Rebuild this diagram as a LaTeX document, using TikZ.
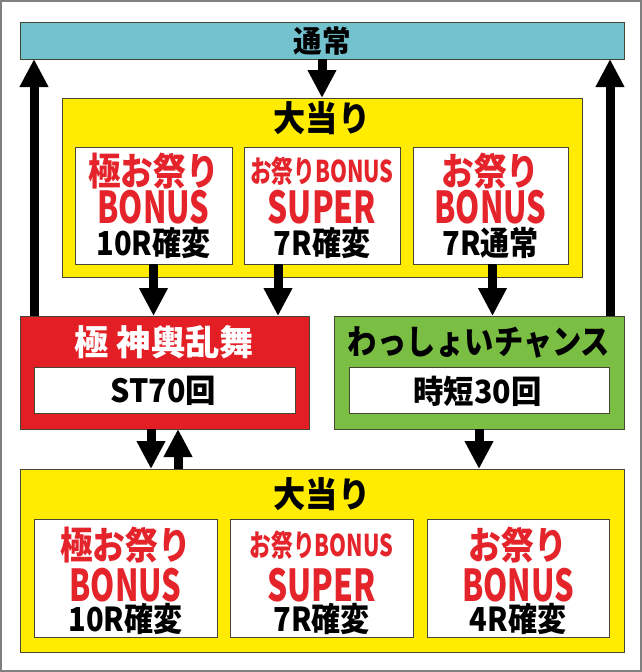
\documentclass[tikz,border=0pt]{standalone}
\usepackage{fontspec}
\usetikzlibrary{arrows.meta}
\newcommand\jf[2]{\fontspec{Noto Sans CJK JP}[UprightFont=* Black,FakeStretch=#1]\fontsize{#2}{#2}\selectfont}
\definecolor{barteal}{RGB}{115,195,207}
\definecolor{boxyellow}{RGB}{255,236,0}
\definecolor{boxred}{RGB}{227,30,36}
\definecolor{boxgreen}{RGB}{122,190,67}
\definecolor{txtred}{RGB}{228,36,42}
\definecolor{edge}{RGB}{70,70,50}
\tikzset{
  panel/.style={draw=edge, line width=0.8pt, anchor=north west, inner sep=0pt, outer sep=0pt},
  lbl/.style={inner sep=0pt, outer sep=0pt, anchor=center},
  arr/.style={line width=9pt, -{Triangle[width=27pt,length=28pt]}},
  redl/.style={lbl, text=txtred},
}
\begin{document}
\begin{tikzpicture}[x=1pt,y=-1pt]
\useasboundingbox (0,0) rectangle (642,672);
\draw[draw=gray, line width=2pt] (1,1) rectangle (641,671);
% boxes
\node[panel, fill=barteal, minimum width=604pt, minimum height=37pt] (bar) at (20,22) {};
\node[panel, fill=boxyellow, minimum width=520pt, minimum height=179pt] (topY) at (62,98) {};
\node[panel, fill=white, minimum width=157pt, minimum height=117pt] (t1) at (75,147) {};
\node[panel, fill=white, minimum width=156pt, minimum height=117pt] (t2) at (244,147) {};
\node[panel, fill=white, minimum width=155pt, minimum height=117pt] (t3) at (413,147) {};
\node[panel, fill=boxred, minimum width=289pt, minimum height=113pt] (red) at (20,316) {};
\node[panel, fill=white, minimum width=261pt, minimum height=46pt] (redIn) at (34,367) {};
\node[panel, fill=boxgreen, minimum width=290pt, minimum height=113pt] (green) at (334,316) {};
\node[panel, fill=white, minimum width=260pt, minimum height=46pt] (greenIn) at (349,367) {};
\node[panel, fill=boxyellow, minimum width=604pt, minimum height=183pt] (botY) at (20,469) {};
\node[panel, fill=white, minimum width=183pt, minimum height=118pt] (b1) at (34,519) {};
\node[panel, fill=white, minimum width=183pt, minimum height=118pt] (b2) at (230,519) {};
\node[panel, fill=white, minimum width=182pt, minimum height=118pt] (b3) at (427,519) {};
% texts
\node[lbl] (barT) at (322,41) {\jf{0.95}{30pt}通常};
\node[lbl] (topT) at (322,118) {\jf{0.92}{35pt}大当り};
\node[redl] (t1a) at (153.5,171) {\jf{0.86}{38pt}極お祭り};
\node[redl] (t1b) at (153.5,207) {\jf{0.7}{44pt}BONUS};
\node[lbl] (t1c) at (153.5,243) {\jf{0.88}{33pt}10R確変};
\node[redl] (t2a) at (322,171) {\jf{0.72}{30pt}お祭りBONUS};
\node[redl] (t2b) at (322,207) {\jf{0.72}{44pt}SUPER};
\node[lbl] (t2c) at (322,243) {\jf{0.88}{33pt}7R確変};
\node[redl] (t3a) at (490.5,171) {\jf{0.86}{38pt}お祭り};
\node[redl] (t3b) at (490.5,207) {\jf{0.7}{44pt}BONUS};
\node[lbl] (t3c) at (490.5,243) {\jf{0.88}{33pt}7R通常};
\node[lbl, text=white] (redT) at (164.5,342) {\jf{0.98}{35pt}極 神輿乱舞};
\node[lbl] (redInT) at (163.5,391) {\jf{0.95}{32pt}ST70回};
\node[lbl] (greenT) at (479,342) {\jf{0.86}{34pt}わっしょいチャンス};
\node[lbl] (greenInT) at (477.5,391) {\jf{0.95}{32pt}時短30回};
\node[lbl] (botT) at (322,494) {\jf{0.92}{35pt}大当り};
\node[redl] (b1a) at (125.5,545) {\jf{0.86}{38pt}極お祭り};
\node[redl] (b1b) at (125.5,585) {\jf{0.7}{44pt}BONUS};
\node[lbl] (b1c) at (125.5,619) {\jf{0.88}{33pt}10R確変};
\node[redl] (b2a) at (321.5,545) {\jf{0.72}{30pt}お祭りBONUS};
\node[redl] (b2b) at (321.5,585) {\jf{0.72}{44pt}SUPER};
\node[lbl] (b2c) at (321.5,619) {\jf{0.88}{33pt}7R確変};
\node[redl] (b3a) at (518,545) {\jf{0.86}{38pt}お祭り};
\node[redl] (b3b) at (518,585) {\jf{0.7}{44pt}BONUS};
\node[lbl] (b3c) at (518,619) {\jf{0.88}{33pt}4R確変};
% arrows
\draw[arr] (bar.south) -- (topY.north);
\draw[arr] ([xshift=14pt]red.north west) -- ([xshift=14pt]red.north west |- bar.south);
\draw[arr] ([xshift=-14pt]green.north east) -- ([xshift=-14pt]green.north east |- bar.south);
\draw[arr] (t1.south) -- (t1.south |- red.north);
\draw[arr] ([xshift=-44pt]t2.south) -- ([xshift=-44pt]t2.south |- red.north);
\draw[arr] ([xshift=2pt]t3.south) -- ([xshift=2pt]t3.south |- green.north);
\draw[arr] ([xshift=131pt]red.south west) -- ([xshift=131pt]red.south west |- botY.north);
\draw[arr] ([xshift=158pt]red.south west |- botY.north) -- ([xshift=158pt]red.south west);
\draw[arr] (green.south) -- (green.south |- botY.north);
\end{tikzpicture}
\end{document}
